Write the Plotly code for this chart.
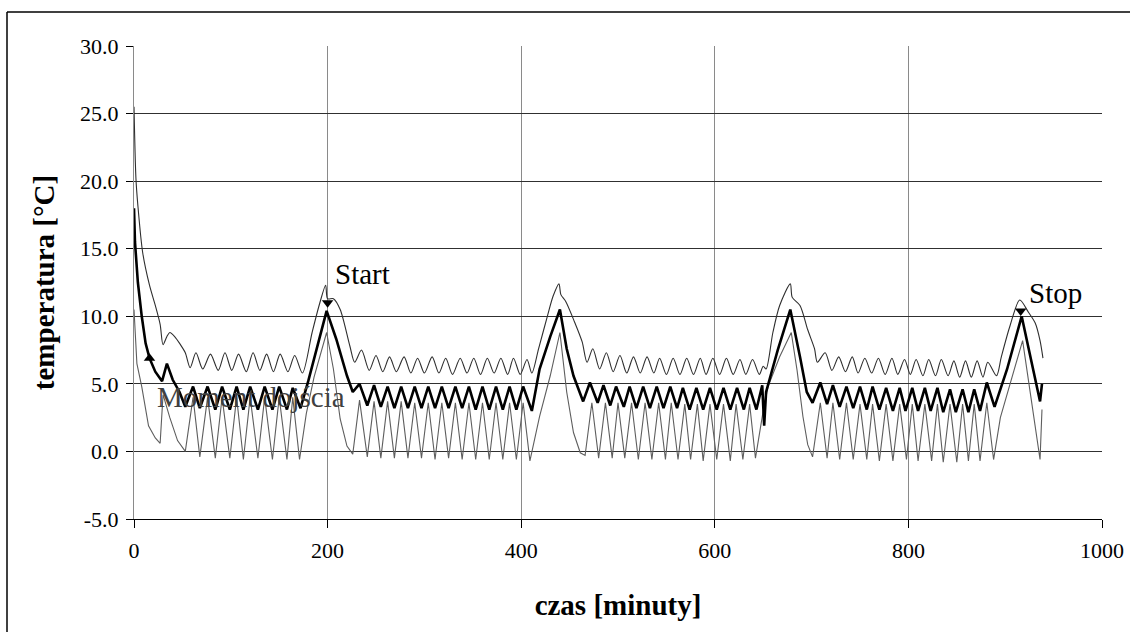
import plotly.graph_objects as go

# ---------------- data ----------------
upper_t = [0, 2, 4, 9, 16, 22, 27, 30, 34, 37, 42, 48, 53, 58,
           64, 71, 79, 87, 94, 101, 108, 116, 123, 130, 137, 144, 151, 159, 166, 174,
           184, 192, 198, 200, 206, 213, 223, 228,
           235, 243, 250, 257, 264, 271, 279, 286, 293, 300, 308, 315, 322, 329, 337, 344,
           351, 358, 365, 372, 379, 386, 392, 399, 406, 411,
           418, 427, 433, 439, 441, 446, 455, 463, 468,
           474, 481, 488, 495, 502, 509, 516, 523, 530, 537, 543, 550, 557, 564, 571, 578,
           585, 591, 598, 605, 612, 619, 626, 632, 639, 646, 650,
           653, 660, 667, 678, 680, 688, 696, 703, 706,
           714, 721, 728, 735, 742, 748, 755, 762, 769, 776, 783, 789, 796, 802, 808, 815,
           821, 828, 834, 841, 847, 853, 859, 865, 871, 877, 882, 891,
           896, 905, 915, 924, 931, 936, 939]
upper_v = [25.5, 20.2, 18.2, 14.7, 12.3, 10.8, 9.4, 7.9, 8.5, 8.8, 8.5, 7.9, 7.3, 6.2,
           7.3, 6.1, 7.2, 6.0, 7.3, 6.0, 7.2, 5.9, 7.3, 6.0, 7.2, 5.9, 7.2, 5.9, 7.1, 5.8,
           8.8, 11.0, 12.3, 11.3, 11.3, 10.5, 7.8, 6.6,
           7.5, 6.0, 7.1, 5.9, 7.0, 5.9, 7.0, 5.8, 6.9, 5.8, 7.0, 5.8, 6.9, 5.7, 6.9, 5.8,
           6.9, 5.7, 6.9, 5.8, 6.9, 5.7, 6.9, 5.7, 6.8, 5.8,
           7.6, 10.0, 11.5, 12.4, 11.6, 11.1, 9.6, 8.1, 6.6,
           7.6, 6.1, 7.3, 5.9, 7.1, 5.8, 7.0, 5.8, 7.0, 5.8, 6.9, 5.7, 6.9, 5.7, 6.9, 5.7,
           6.9, 5.7, 6.9, 5.7, 6.9, 5.7, 6.8, 5.7, 6.8, 5.7, 6.3,
           6.1, 8.8, 10.8, 12.4, 11.4, 10.8, 9.0, 7.6, 6.6,
           7.3, 6.0, 7.0, 5.9, 7.0, 5.8, 6.9, 5.8, 6.9, 5.7, 6.9, 5.7, 6.8, 5.7, 6.8, 5.6,
           6.8, 5.6, 6.8, 5.6, 6.7, 5.5, 6.7, 5.5, 6.7, 5.5, 6.6, 5.6,
           7.0, 9.3, 11.2, 10.3, 9.5, 8.2, 6.9]

middle_t = [0, 1, 4, 8, 12, 16, 22, 29, 34, 40, 47, 53,
            61, 68, 76, 84, 91, 99, 106, 113, 120, 128, 135, 143, 150, 158, 164, 172,
            180, 190, 199, 209, 220, 226,
            233, 241, 248, 255, 262, 269, 276, 283, 290, 297, 304, 311, 318, 325, 332, 339,
            346, 353, 360, 367, 374, 381, 388, 395, 402, 411,
            419, 430, 440, 447, 454, 464,
            471, 479, 485, 492, 498, 506, 512, 519, 526, 533, 540, 547, 554, 561, 567, 574,
            581, 588, 595, 602, 609, 616, 623, 630, 636, 643, 649,
            651, 653, 665, 678, 688, 695, 701,
            709, 716, 722, 729, 736, 743, 750, 757, 763, 770, 777, 784, 791, 797, 804, 810,
            817, 823, 830, 836, 843, 849, 856, 862, 868, 874, 881,
            889, 902, 917, 926, 933, 936, 938]
middle_v = [18.0, 15.5, 12.5, 10.0, 8.0, 6.9, 5.9, 5.2, 6.5, 5.3, 4.4, 3.3,
            4.8, 3.2, 4.8, 3.1, 4.8, 3.1, 4.8, 3.1, 4.8, 3.1, 4.8, 3.1, 4.8, 3.1, 4.7, 3.2,
            5.2, 7.9, 10.4, 8.3, 5.6, 4.4,
            5.0, 3.4, 4.9, 3.3, 4.8, 3.2, 4.8, 3.2, 4.8, 3.2, 4.8, 3.2, 4.8, 3.2, 4.8, 3.2,
            4.8, 3.1, 4.8, 3.1, 4.8, 3.1, 4.8, 3.1, 4.8, 3.0,
            6.1, 8.5, 10.5, 7.6, 5.6, 3.7,
            5.1, 3.6, 4.9, 3.4, 4.8, 3.3, 4.8, 3.2, 4.8, 3.2, 4.8, 3.2, 4.8, 3.2, 4.7, 3.1,
            4.7, 3.1, 4.7, 3.1, 4.7, 3.1, 4.7, 3.1, 4.7, 3.1, 4.9,
            1.9, 4.4, 7.5, 10.5, 7.0, 4.4, 3.6,
            5.1, 3.5, 4.9, 3.3, 4.8, 3.2, 4.8, 3.1, 4.8, 3.1, 4.7, 3.0, 4.7, 3.0, 4.7, 3.0,
            4.7, 3.0, 4.7, 2.9, 4.6, 2.9, 4.6, 2.9, 4.6, 3.0, 5.1,
            3.3, 6.1, 10.0, 7.0, 4.8, 3.7, 5.0]

lower_t = [0, 3, 8, 15, 22, 27, 30, 37, 45, 53,
           61, 68, 76, 84, 91, 99, 106, 113, 120, 128, 135, 143, 150, 158, 164, 171,
           178, 186, 199, 206, 213, 220, 226,
           233, 241, 248, 255, 262, 269, 276, 283, 290, 297, 304, 311, 318, 325, 332, 339,
           346, 353, 360, 367, 374, 381, 388, 395, 402, 409,
           419, 430, 440, 447, 454, 461, 466,
           473, 480, 487, 494, 500, 507, 514, 521, 528, 535, 542, 549, 555, 562, 569, 575,
           582, 588, 595, 602, 609, 616, 622, 629, 636, 642,
           650, 655, 667, 679, 685, 691, 696, 701,
           709, 716, 722, 729, 736, 743, 750, 757, 763, 770, 777, 784, 791, 798, 804, 810,
           817, 824, 830, 836, 843, 850, 856, 862, 868, 874, 881, 888,
           895, 905, 918, 927, 936, 938]
lower_v = [10.5, 6.5, 4.8, 1.9, 1.0, 0.6, 4.2, 2.5, 0.8, 0.0,
           4.0, -0.4, 4.0, -0.5, 4.0, -0.5, 4.0, -0.6, 4.0, -0.5, 4.0, -0.6, 4.0, -0.6, 4.0, -0.6,
           2.8, 5.5, 8.8, 6.1, 2.4, 0.4, -0.2,
           3.8, -0.4, 3.7, -0.5, 3.7, -0.5, 3.7, -0.5, 3.6, -0.5, 3.6, -0.6, 3.6, -0.5, 3.6, -0.6,
           3.6, -0.6, 3.6, -0.6, 3.6, -0.6, 3.6, -0.6, 3.6, -0.7,
           2.6, 5.6, 8.8, 4.4, 1.4, -0.1, -0.3,
           3.6, -0.5, 3.6, -0.5, 3.6, -0.5, 3.6, -0.6, 3.6, -0.6, 3.6, -0.6, 3.6, -0.6, 3.5, -0.6,
           3.5, -0.7, 3.5, -0.6, 3.5, -0.7, 3.5, -0.6, 3.5, -0.5,
           3.0, 4.8, 7.0, 8.8, 6.0, 2.6, 0.5, -0.4,
           3.6, -0.5, 3.6, -0.6, 3.6, -0.6, 3.5, -0.6, 3.5, -0.7, 3.5, -0.7, 3.5, -0.6, 3.5, -0.7,
           3.5, -0.7, 3.5, -0.8, 3.5, -0.8, 3.5, -0.7, 3.5, -0.7, 3.6, -0.6,
           2.5, 5.0, 8.2, 3.8, -0.6, 3.1]

event_labels = ["Moment dojścia", "Start", "Stop"]
event_t = [16, 200, 916]
event_v = [6.9, 11.0, 10.4]
event_symbols = ["triangle-up", "triangle-down", "triangle-down"]
label_t = [22, 206, 922]
label_v = [4.0, 13.1, 11.7]
label_colors = ["#404040", "#000000", "#000000"]

x_ticks = [0, 200, 400, 600, 800, 1000]
y_ticks = [-5, 0, 5, 10, 15, 20, 25, 30]

# ---------------- figure ----------------
W, H = 1130, 632
ML, MR, MT, MB = 134, 28, 46, 113
SERIF = "Liberation Serif, Times New Roman, serif"

fig = go.Figure()
fig.add_trace(go.Scatter(x=upper_t, y=upper_v, mode="lines",
                         line=dict(color="#2e2e2e", width=1.1, shape="spline", smoothing=0.8),
                         showlegend=False, hoverinfo="skip"))
fig.add_trace(go.Scatter(x=lower_t, y=lower_v, mode="lines",
                         line=dict(color="#5e5e5e", width=1.1),
                         showlegend=False, hoverinfo="skip"))
fig.add_trace(go.Scatter(x=middle_t, y=middle_v, mode="lines",
                         line=dict(color="#000000", width=2.6),
                         showlegend=False, hoverinfo="skip"))
fig.add_trace(go.Scatter(x=event_t, y=event_v, mode="markers",
                         marker=dict(symbol=event_symbols, size=10, color="#000000"),
                         showlegend=False, hoverinfo="skip"))

for lab, tx, ty, col in zip(event_labels, label_t, label_v, label_colors):
    fig.add_annotation(x=tx, y=ty, text=lab, showarrow=False, xanchor="left",
                       yanchor="middle", font=dict(family=SERIF, size=29, color=col))

pw = W - ML - MR
ph = H - MT - MB
fx = lambda px: (px - ML) / pw
fy = lambda py: (H - MB - py) / ph
# outer chart frame (top and left edges visible in the picture)
fig.add_shape(type="line", xref="paper", yref="paper", x0=fx(7), x1=fx(W + 5),
              y0=fy(12), y1=fy(12), line=dict(color="#000000", width=1.5))
fig.add_shape(type="line", xref="paper", yref="paper", x0=fx(7), x1=fx(7),
              y0=fy(12), y1=fy(H + 5), line=dict(color="#000000", width=1.5))

fig.update_layout(
    width=W, height=H,
    margin=dict(l=ML, r=MR, t=MT, b=MB, autoexpand=False),
    paper_bgcolor="#ffffff", plot_bgcolor="#ffffff",
    font=dict(family=SERIF, color="#000000"),
    xaxis=dict(range=[0, 1000], tickvals=x_ticks, ticktext=[str(v) for v in x_ticks],
               showgrid=True, gridcolor="#8a8a8a", gridwidth=1,
               showline=True, linecolor="#000000", linewidth=1.2,
               ticks="outside", ticklen=8, tickcolor="#000000",
               ticklabelstandoff=3,
               tickfont=dict(size=22, family=SERIF), zeroline=False,
               title=dict(text="<b>czas [minuty]</b>", standoff=33,
                          font=dict(size=29, family=SERIF))),
    yaxis=dict(range=[-5, 30], tickvals=y_ticks, ticktext=["%.1f" % v for v in y_ticks],
               showgrid=True, gridcolor="#303030", gridwidth=1,
               showline=True, linecolor="#8a8a8a", linewidth=1.2,
               ticks="outside", ticklen=7, tickcolor="#000000",
               ticklabelstandoff=3,
               tickfont=dict(size=22, family=SERIF), zeroline=False,
               title=dict(text="<b>temperatura [°C]</b>", standoff=16,
                          font=dict(size=29, family=SERIF))),
)

fig.write_html("out.html", config={"displayModeBar": False})

# remove the default page margin so the figure sits at the window origin
with open("out.html", "r", encoding="utf-8") as fh:
    page = fh.read()
page = page.replace("<head>", "<head><style>html,body{margin:0;padding:0;overflow:hidden;}</style>", 1)
with open("out.html", "w", encoding="utf-8") as fh:
    fh.write(page)
